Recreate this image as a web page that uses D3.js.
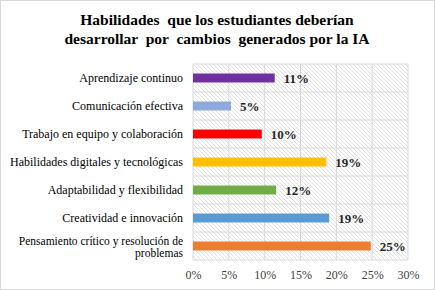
<!DOCTYPE html>
<html>
<head>
<meta charset="utf-8">
<script src="https://cdn.jsdelivr.net/npm/d3@7"></script>
<style>
  body { margin: 0; background: #fff; }
</style>
</head>
<body>
<div id="chart"></div>
<script>
// Datos
const categorias = [
    "Aprendizaje continuo",
    "Comunicación efectiva",
    "Trabajo en equipo y colaboración",
    "Habilidades digitales y tecnológicas",
    "Adaptabilidad y flexibilidad",
    "Creatividad e innovación",
    "Pensamiento crítico y resolución de|problemas"
];
const valores = [0.114, 0.053, 0.096, 0.186, 0.116, 0.19, 0.248];
const colores = ["#7030A0", "#8EA9DB", "#FF0000", "#FFC000", "#70AD47", "#5B9BD5", "#ED7D31"];
const ticksX = [0, 0.05, 0.10, 0.15, 0.20, 0.25, 0.30];
const tituloLineas = ["Habilidades  que los estudiantes deberían", "desarrollar  por  cambios  generados por la IA"];

const FUENTE = "'Liberation Serif', 'Times New Roman', serif";
const W = 435, H = 290;
const margin = { top: 64, right: 27, bottom: 30, left: 193 };
const width = W - margin.left - margin.right;
const height = H - margin.top - margin.bottom;

const svg = d3.select("#chart").append("svg")
    .attr("width", W)
    .attr("height", H)
    .style("font-family", FUENTE);

// Patrón rayado del fondo
const pat = svg.append("defs").append("pattern")
    .attr("id", "rayas")
    .attr("patternUnits", "userSpaceOnUse")
    .attr("width", 4)
    .attr("height", 4);
pat.append("path")
    .attr("d", "M-1,-1 L5,5 M-1,3 L1,5 M3,-1 L5,1")
    .attr("stroke", "#d4d4d4")
    .attr("stroke-width", 0.7);

// Borde exterior
svg.append("rect")
    .attr("x", 0.5).attr("y", 0.5)
    .attr("width", W - 1).attr("height", H - 1)
    .attr("fill", "#fff")
    .attr("stroke", "#d9d9d9");

// Título
svg.append("text")
    .attr("x", 217)
    .attr("y", 25)
    .attr("text-anchor", "middle")
    .style("font-family", FUENTE)
    .style("font-size", "15.5px")
    .style("font-weight", "bold")
    .style("white-space", "pre")
    .selectAll("tspan")
    .data(tituloLineas)
    .enter()
    .append("tspan")
    .attr("x", 217)
    .attr("dy", (d, i) => i === 0 ? 0 : 19)
    .text(d => d);

const g = svg.append("g")
    .attr("transform", `translate(${margin.left},${margin.top})`);

const x = d3.scaleLinear().domain([0, 0.30]).range([0, width]);
const y = d3.scaleBand().domain(categorias).range([0, height]).paddingInner(0.68).paddingOuter(0.34);
const yGrid = d3.scaleBand().domain(categorias).range([0, height]);

g.append("rect")
    .attr("width", width)
    .attr("height", height)
    .attr("fill", "url(#rayas)");

// Cuadrícula
g.append("g")
    .selectAll("line.v")
    .data(ticksX)
    .enter()
    .append("line")
    .attr("x1", d => x(d)).attr("x2", d => x(d))
    .attr("y1", 0).attr("y2", height)
    .attr("stroke", "#d9d9d9");

g.append("g")
    .selectAll("line.h")
    .data(categorias.concat(["__fin"]))
    .enter()
    .append("line")
    .attr("x1", 0).attr("x2", width)
    .attr("y1", (d, i) => i < categorias.length ? yGrid(d) : height)
    .attr("y2", (d, i) => i < categorias.length ? yGrid(d) : height)
    .attr("stroke", "#d9d9d9");

// Ejes
const ejeX = g.append("g")
    .attr("transform", `translate(0,${height})`)
    .call(d3.axisBottom(x).tickValues(ticksX).tickFormat(d3.format(".0%")).tickSize(0).tickPadding(10));
ejeX.select(".domain").remove();
ejeX.selectAll("text")
    .style("font-family", FUENTE)
    .style("font-size", "12px")
    .attr("fill", "#404040");

const ejeY = g.append("g")
    .call(d3.axisLeft(y).tickSize(0).tickPadding(10).tickFormat(""));
ejeY.select(".domain").remove();
// cada línea de la etiqueta como texto propio
ejeY.selectAll(".tick").each(function (d) {
    const partes = d.split("|");
    const t = d3.select(this);
    partes.forEach((p, i) => {
        t.append("text")
            .attr("x", -10)
            .attr("y", partes.length > 1 ? (i === 0 ? -5.5 : 6.5) : 0)
            .attr("dy", "0.35em")
            .attr("text-anchor", "end")
            .attr("fill", "#000")
            .style("font-family", FUENTE)
            .style("font-size", partes.length > 1 ? "11.5px" : "12px")
            .text(p);
    });
});

// Barras
g.append("g")
    .selectAll("rect")
    .data(valores)
    .enter()
    .append("rect")
    .attr("x", 0)
    .attr("y", (d, i) => y(categorias[i]))
    .attr("width", d => x(d))
    .attr("height", y.bandwidth())
    .attr("fill", (d, i) => colores[i]);

// Etiquetas de valor
g.append("g")
    .selectAll("text")
    .data(valores)
    .enter()
    .append("text")
    .attr("x", d => x(d) + 9)
    .attr("y", (d, i) => y(categorias[i]) + y.bandwidth() / 2)
    .attr("dy", "0.36em")
    .style("font-family", FUENTE)
    .style("font-size", "13px")
    .style("font-weight", "bold")
    .attr("fill", "#262626")
    .text(d => d3.format(".0%")(d));
</script>
</body>
</html>
